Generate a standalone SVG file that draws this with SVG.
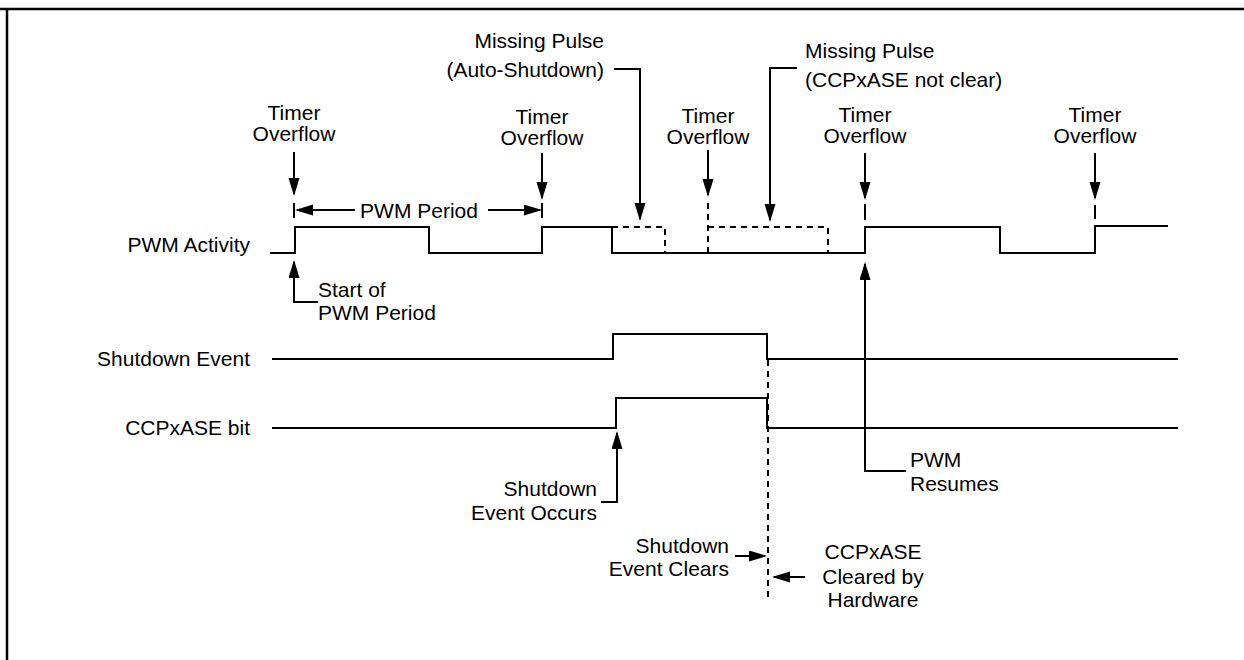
<svg xmlns="http://www.w3.org/2000/svg" width="1244" height="660" viewBox="0 0 1244 660">
<defs>
<marker id="ah" markerUnits="userSpaceOnUse" markerWidth="20" markerHeight="12" refX="16" refY="5.5" orient="auto">
<path d="M0,0 L18,5.5 L0,11 z" fill="#000"/>
</marker>
<style>
text{font-family:"Liberation Sans",Arial,sans-serif;font-size:21px;fill:#000}
.m{text-anchor:middle}
.e{text-anchor:end}
.w{fill:none;stroke:#000;stroke-width:2}
.d{fill:none;stroke:#000;stroke-width:2;stroke-dasharray:6,5}
.a{fill:none;stroke:#000;stroke-width:2;marker-end:url(#ah)}
.f{fill:none;stroke:#000;stroke-width:2.5}
</style>
</defs>
<rect width="1244" height="660" fill="#fff"/>
<g id="frame">
<line class="f" x1="0" y1="9" x2="1244" y2="9"/>
<line class="f" x1="7" y1="9" x2="7" y2="660"/>
</g>
<g id="signal-labels">
<text class="e" x="250" y="252">PWM Activity</text>
<text class="e" x="250" y="366">Shutdown Event</text>
<text class="e" x="250" y="435">CCPxASE bit</text>
</g>
<g id="pwm-activity">
<path class="w" d="M270,253 H295 V227 H429 V253 H542 V227 H612 V253 H865 V227 H1000 V253 H1095 V226 H1168"/>
<path class="d" d="M612,227 H665 V253"/>
<path class="d" d="M708,227 H828 V253"/>
</g>
<g id="shutdown-event">
<path class="w" d="M272,359 H613 V334 H767 V359 H1178"/>
</g>
<g id="ccpxase-bit">
<path class="w" d="M272,428 H616 V398 H767 V428 H1178"/>
</g>
<g id="timer-overflow-1">
<text class="m" x="294" y="120">Timer</text>
<text class="m" x="294" y="141">Overflow</text>
</g>
<g id="timer-overflow-2">
<text class="m" x="542" y="124">Timer</text>
<text class="m" x="542" y="145">Overflow</text>
</g>
<g id="timer-overflow-3">
<text class="m" x="708" y="123">Timer</text>
<text class="m" x="708" y="144">Overflow</text>
</g>
<g id="timer-overflow-4">
<text class="m" x="865" y="122">Timer</text>
<text class="m" x="865" y="143">Overflow</text>
</g>
<g id="timer-overflow-5">
<text class="m" x="1095" y="122">Timer</text>
<text class="m" x="1095" y="143">Overflow</text>
</g>
<g id="pwm-period">
<text class="m" x="419" y="218">PWM Period</text>
</g>
<g id="missing-pulse-auto">
<text class="e" x="604" y="48">Missing Pulse</text>
<text class="e" x="604" y="77">(Auto-Shutdown)</text>
</g>
<g id="missing-pulse-ccp">
<text x="805" y="58">Missing Pulse</text>
<text x="805" y="87">(CCPxASE not clear)</text>
</g>
<g id="start-pwm">
<text x="318" y="297">Start of</text>
<text x="318" y="320">PWM Period</text>
</g>
<g id="shutdown-occurs">
<text class="e" x="597" y="496">Shutdown</text>
<text class="e" x="597" y="520">Event Occurs</text>
</g>
<g id="shutdown-clears">
<text class="e" x="729" y="553">Shutdown</text>
<text class="e" x="729" y="576">Event Clears</text>
</g>
<g id="ccpxase-cleared">
<text class="m" x="873" y="559">CCPxASE</text>
<text class="m" x="873" y="584">Cleared by</text>
<text class="m" x="873" y="607">Hardware</text>
</g>
<g id="pwm-resumes">
<text x="910" y="467">PWM</text>
<text x="910" y="491">Resumes</text>
</g>
<g id="connectors">
<line class="a" x1="294" y1="152" x2="294" y2="194"/>
<line class="w" x1="294" y1="203" x2="294" y2="218"/>
<line class="a" x1="542" y1="153" x2="542" y2="198"/>
<line class="w" x1="542" y1="203" x2="542" y2="218"/>
<line class="a" x1="708" y1="150" x2="708" y2="195"/>
<line class="d" x1="708" y1="203" x2="708" y2="253"/>
<line class="a" x1="865" y1="153" x2="865" y2="198"/>
<line class="w" x1="865" y1="204" x2="865" y2="220"/>
<line class="a" x1="1095" y1="153" x2="1095" y2="198"/>
<line class="w" x1="1095" y1="205" x2="1095" y2="219"/>
<line class="a" x1="355" y1="210" x2="297" y2="210"/>
<line class="a" x1="488" y1="210" x2="540" y2="210"/>
<path class="a" d="M614,69 H640 V219"/>
<path class="a" d="M797,68 H770 V220"/>
<path class="a" d="M318,302 H294 V262"/>
<path class="a" d="M601,502 H617 V433"/>
<path class="a" d="M906,471 H865 V264"/>
<line class="a" x1="735" y1="556" x2="765" y2="556"/>
<line class="a" x1="805" y1="577" x2="774" y2="577"/>
<line class="d" x1="768" y1="360" x2="768" y2="600"/>
</g>
</svg>
